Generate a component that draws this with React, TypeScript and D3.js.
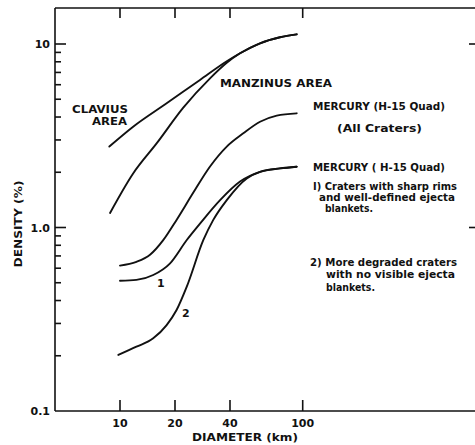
import * as d3 from 'd3';

// diameters (km) and densities (%)
const claviusD = [8.74, 11.8, 18.0, 27.4, 38.4, 45.4, 58.4, 75.1, 92.7];
const claviusV = [2.76, 3.54, 4.75, 6.37, 8.05, 8.9, 10.09, 10.88, 11.29];

const manzinusD = [8.82, 11.8, 15.9, 22.2, 31.1, 38.4, 45.4, 58.4, 75.1, 92.7];
const manzinusV = [1.2, 1.97, 2.88, 4.5, 6.5, 7.9, 8.9, 10.09, 10.88, 11.29];

const allD = [10, 12.3, 14.6, 17.2, 20.4, 25.2, 31.1, 38.4, 47.3, 58.4, 72.1, 92.7];
const allV = [0.62, 0.65, 0.71, 0.85, 1.1, 1.55, 2.15, 2.76, 3.26, 3.77, 4.07, 4.19];

const sharpD = [10, 12.3, 15.2, 18.8, 23.2, 27.4, 35.3, 45.4, 58.4, 75.1, 92.7];
const sharpV = [0.513, 0.518, 0.551, 0.638, 0.855, 1.05, 1.41, 1.78, 2.01, 2.1, 2.145];

const degradedD = [9.79, 12.3, 15.2, 18.0, 20.4, 23.2, 28.6, 32.4, 38.4, 49.4, 58.4, 75.1, 92.7];
const degradedV = [0.202, 0.224, 0.249, 0.294, 0.355, 0.476, 0.855, 1.1, 1.41, 1.85, 2.01, 2.1, 2.145];

const xTicks = [10, 20, 40, 100];
const xTickLabels = ['10', '20', '40', '100'];
const yTicks = [0.1, 1, 10];
const yTickLabels = ['0.1', '1.0', '10'];
const yMinor = [0.2, 0.3, 0.4, 0.5, 0.6, 0.7, 0.8, 0.9, 2, 3, 4, 5, 6, 7, 8, 9];

const series = [
  { d: claviusD, v: claviusV },
  { d: manzinusD, v: manzinusV },
  { d: allD, v: allV },
  { d: sharpD, v: sharpV },
  { d: degradedD, v: degradedV },
];

// annotation text, placed in pixels
const notes: [string, number, number, number, number][] = [
  ['CLAVIUS', 72, 113, 56, 11],
  ['AREA', 92, 125, 35, 11],
  ['MANZINUS  AREA', 220, 87, 112, 11],
  ['MERCURY (H-15 Quad)', 313, 110, 132, 11],
  ['(All Craters)', 337, 132, 85, 11],
  ['MERCURY ( H-15 Quad)', 313, 171, 132, 11],
  ['I) Craters with sharp rims', 313, 190, 144, 10],
  ['and well-defined ejecta', 319, 201, 136, 10],
  ['blankets.', 325, 212, 48, 10],
  ['2) More  degraded craters', 310, 266, 147, 10],
  ['with no visible ejecta', 326, 278, 129, 10],
  ['blankets.', 326, 291, 49, 10],
  ['1', 157, 287, 0, 11],
  ['2', 182, 317, 0, 11],
];

const font = '"DejaVu Sans", sans-serif';

export default function App() {
  const W = 475, H = 445;
  const left = 55, top = 8, right = 475;

  const x = d3.scaleLog().domain([10, 100]).range([120, 302.7]);
  const y = d3.scaleLog().domain([0.1, 10]).range([411, 44]);
  const bottom = y(0.1);

  const line = d3.line<[number, number]>()
    .x(p => x(p[0]))
    .y(p => y(p[1]))
    .curve(d3.curveMonotoneX);

  return (
    <svg width={W} height={H} style={{ position: 'absolute', left: 0, top: 0, background: '#fff' }}>
      <rect width={W} height={H} fill="#fff" />
      <g stroke="#111" strokeWidth={1.6} fill="none">
        <line x1={left} y1={top} x2={right} y2={top} />
        <line x1={left} y1={top} x2={left} y2={bottom} />
        <line x1={left} y1={bottom} x2={right} y2={bottom} />
        {xTicks.map(t => (
          <g key={t}>
            <line x1={x(t)} x2={x(t)} y1={top} y2={top + 10} />
            <line x1={x(t)} x2={x(t)} y1={bottom} y2={bottom - 11} />
          </g>
        ))}
        {yTicks.slice(1).map(t => (
          <g key={t}>
            <line x1={left} x2={left + 11} y1={y(t)} y2={y(t)} />
            <line x1={right - 6} x2={right} y1={y(t)} y2={y(t)} />
          </g>
        ))}
        {yMinor.map(t => (
          <line key={t} x1={left} x2={left + 6} y1={y(t)} y2={y(t)} />
        ))}
      </g>

      <g stroke="#111" strokeWidth={1.9} fill="none" strokeLinecap="round">
        {series.map((s, i) => (
          <path key={i} d={line(s.d.map((d, j) => [d, s.v[j]] as [number, number])) || ''} />
        ))}
      </g>

      <g fontFamily={font} fontWeight="bold" fill="#111" fontSize={11}>
        {yTicks.map((t, i) => (
          <text key={t} x={left - 5} y={y(t) + 4} textAnchor="end">{yTickLabels[i]}</text>
        ))}
        {xTicks.map((t, i) => (
          <text key={t} x={x(t)} y={bottom + 16} textAnchor="middle">{xTickLabels[i]}</text>
        ))}
        <text x={245} y={441} textAnchor="middle" textLength={106} lengthAdjust="spacingAndGlyphs">DIAMETER (km)</text>
        <text transform="translate(22,224) rotate(-90)" textAnchor="middle" textLength={87} lengthAdjust="spacingAndGlyphs">DENSITY (%)</text>
        {notes.map(([s, nx, ny, w, fs], i) => (
          <text key={i} x={nx} y={ny} fontSize={fs}
            {...(w > 0 ? { textLength: w, lengthAdjust: 'spacingAndGlyphs' } : {})}>{s}</text>
        ))}
      </g>
    </svg>
  );
}
